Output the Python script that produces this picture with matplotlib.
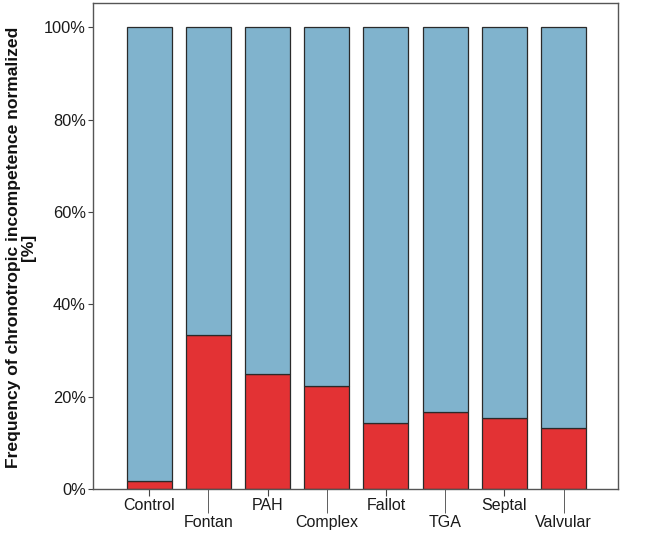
import matplotlib
matplotlib.use("Agg")
import matplotlib.pyplot as plt
import numpy as np
from matplotlib.ticker import FuncFormatter

categories = ["Control", "Fontan", "PAH", "Complex", "Fallot", "TGA", "Septal", "Valvular"]
incompetent = [1.8, 33.3, 25.0, 22.2, 14.3, 16.7, 15.4, 13.3]
competent = [100 - v for v in incompetent]
yticks = [0, 20, 40, 60, 80, 100]

plt.rcParams['font.family'] = ['Liberation Sans', 'DejaVu Sans']

fig = plt.figure(figsize=(6.54, 5.33), dpi=100)
ax = fig.add_axes([0.142, 0.0826, 0.803, 0.9114])

x = np.arange(len(categories))
edge = '#2a2a2a'
ax.bar(x, incompetent, width=0.76, color='#e33234', edgecolor=edge, linewidth=0.9)
ax.bar(x, competent, bottom=incompetent, width=0.76, color='#80b3cd', edgecolor=edge, linewidth=0.9)

ax.set_xlim(-0.95, 7.92)
ax.set_ylim(0, 105.2)
ax.set_yticks(yticks)
ax.yaxis.set_major_formatter(FuncFormatter(lambda v, p: f"{int(v)}%"))
ax.tick_params(axis='y', labelsize=11.8, length=3.6, pad=1.5, color='#444444', labelcolor='#1a1a1a')

ax.set_xticks(x[0::2])
ax.set_xticklabels(categories[0::2])
ax.set_xticks(x[1::2], minor=True)
ax.set_xticklabels(categories[1::2], minor=True)
ax.tick_params(axis='x', which='major', length=5, pad=1.5, labelsize=11.5, color='#444444', labelcolor='#1a1a1a')
ax.tick_params(axis='x', which='minor', length=17.5, pad=1.5, labelsize=11.5, color='#444444', labelcolor='#1a1a1a')

for s in ax.spines.values():
    s.set_color('#555555')
    s.set_linewidth(1.0)

ax.set_ylabel("Frequency of chronotropic incompetence normalized\n[%]",
              fontsize=12.6, fontweight='bold', linespacing=1.05, color='#111111')
ax.yaxis.set_label_coords(-0.108, 0.497)

fig.savefig("out.png", dpi=100)
